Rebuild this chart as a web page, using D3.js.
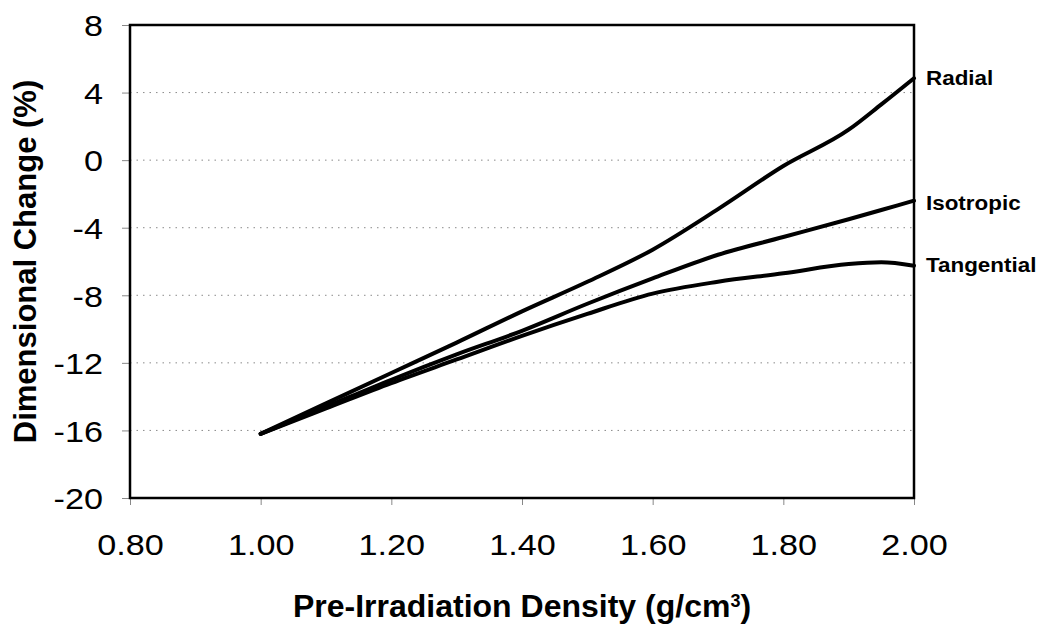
<!DOCTYPE html>
<html lang="en">
    <head>
        <meta charset="utf-8">
        <title>Dimensional Change vs Pre-Irradiation Density</title>
        <script src="https://d3js.org/d3.v7.min.js"></script>
        <style>
            html, body {
                margin: 0;
                padding: 0;
                background: #ffffff;
            }
            svg {
                display: block;
                font-family: "Liberation Sans", Arial, sans-serif;
            }
            .tick text {
                font-size: 30px;
                fill: #000;
            }
            .grid line {
                stroke: #8a8a8a;
                stroke-width: 1;
                stroke-dasharray: 1.5, 5;
            }
            .axis-title {
                font-size: 31px;
                font-weight: bold;
            }
            .series-label {
                font-size: 20px;
                font-weight: bold;
            }
        </style>
    </head>
    <body>
        <svg id="chart"></svg>
        <script>
            // data
            const density = [1.0, 1.1, 1.2, 1.3, 1.4, 1.5, 1.6, 1.7, 1.8, 1.9, 1.95, 2.0];
            const radial = [-16.2, -14.4, -12.6, -10.8, -8.95, -7.2, -5.3, -2.9, -0.35, 1.8, 3.3, 4.85];
            const isotropic = [-16.2, -14.6, -13.0, -11.5, -10.1, -8.5, -7.0, -5.6, -4.55, -3.5, -2.95, -2.4];
            const tangential = [-16.2, -14.7, -13.2, -11.8, -10.4, -9.1, -7.9, -7.2, -6.7, -6.15, -6.05, -6.25];
            const seriesNames = ["Radial", "Isotropic", "Tangential"];
            const xTicks = [0.8, 1.0, 1.2, 1.4, 1.6, 1.8, 2.0];
            const yTicks = [8, 4, 0, -4, -8, -12, -16, -20];

            const width = 1042;
            const height = 626;
            const margin = { top: 25, right: 128, bottom: 128, left: 130 };

            const svg = d3.select("#chart")
                .attr("width", width)
                .attr("height", height);

            const x = d3.scaleLinear()
                .domain([0.8, 2.0])
                .range([margin.left, width - margin.right]);

            const y = d3.scaleLinear()
                .domain([-20, 8])
                .range([height - margin.bottom, margin.top]);

            //dotted grid lines
            svg.append("g")
                .attr("class", "grid")
                .selectAll("line")
                .data(yTicks.filter(d => d > -20 && d < 8))
                .enter()
                .append("line")
                .attr("x1", x(0.8))
                .attr("x2", x(2.0))
                .attr("y1", d => y(d))
                .attr("y2", d => y(d));

            //axes
            const xAxis = d3.axisBottom(x)
                .tickValues(xTicks)
                .tickFormat(d3.format(".2f"))
                .tickSize(7)
                .tickPadding(29);

            const yAxis = d3.axisLeft(y)
                .tickValues(yTicks)
                .tickFormat(d => String(d))
                .tickSize(8)
                .tickPadding(19);

            const gx = svg.append("g")
                .attr("transform", `translate(0, ${y(-20)})`)
                .call(xAxis);

            const gy = svg.append("g")
                .attr("transform", `translate(${x(0.8)}, 0)`)
                .call(yAxis);

            [gx, gy].forEach(g => {
                g.select(".domain").remove();
                g.selectAll(".tick line").attr("stroke", "#888").attr("stroke-width", 1);
                g.selectAll(".tick text")
                    .attr("font-family", null)
                    .attr("font-size", null)
                    .attr("lengthAdjust", "spacingAndGlyphs")
                    .attr("textLength", function() { return this.getComputedTextLength() * 1.14; });
            });
            gy.selectAll(".tick text").attr("dy", "0.36em");

            //frame
            svg.append("rect")
                .attr("x", x(0.8))
                .attr("y", y(8))
                .attr("width", x(2.0) - x(0.8))
                .attr("height", y(-20) - y(8))
                .attr("fill", "none")
                .attr("stroke", "#000")
                .attr("stroke-width", 2.5);

            //curves
            const line = d3.line()
                .x(d => x(d[0]))
                .y(d => y(d[1]))
                .curve(d3.curveMonotoneX);

            const series = [radial, isotropic, tangential];

            svg.append("g")
                .selectAll("path")
                .data(series)
                .enter()
                .append("path")
                .attr("d", s => line(density.map((d, i) => [d, s[i]])))
                .attr("fill", "none")
                .attr("stroke", "#000")
                .attr("stroke-width", 4)
                .attr("stroke-linecap", "round");

            //series labels at right end
            const labelOffsets = [0, 2, -1];
            svg.append("g")
                .selectAll("text")
                .data(series)
                .enter()
                .append("text")
                .attr("class", "series-label")
                .attr("x", x(2.0) + 12)
                .attr("y", (s, i) => y(s[s.length - 1]) + labelOffsets[i])
                .attr("dy", "0.35em")
                .text((s, i) => seriesNames[i])
                .attr("lengthAdjust", "spacingAndGlyphs")
                .attr("textLength", function() { return this.getComputedTextLength() * 1.12; });

            //axis titles
            const xTitle = svg.append("text")
                .attr("class", "axis-title")
                .attr("x", (x(0.8) + x(2.0)) / 2)
                .attr("y", 617)
                .style("font-size", "32px")
                .attr("text-anchor", "middle");
            xTitle.append("tspan").text("Pre-Irradiation Density (g/cm");
            xTitle.append("tspan").attr("baseline-shift", "super").style("font-size", "18px").text("3");
            xTitle.append("tspan").text(")");

            svg.append("text")
                .attr("class", "axis-title")
                .attr("transform", `translate(36, ${(y(8) + y(-20)) / 2}) rotate(-90)`)
                .attr("text-anchor", "middle")
                .text("Dimensional Change (%)");
        </script>
    </body>
</html>
